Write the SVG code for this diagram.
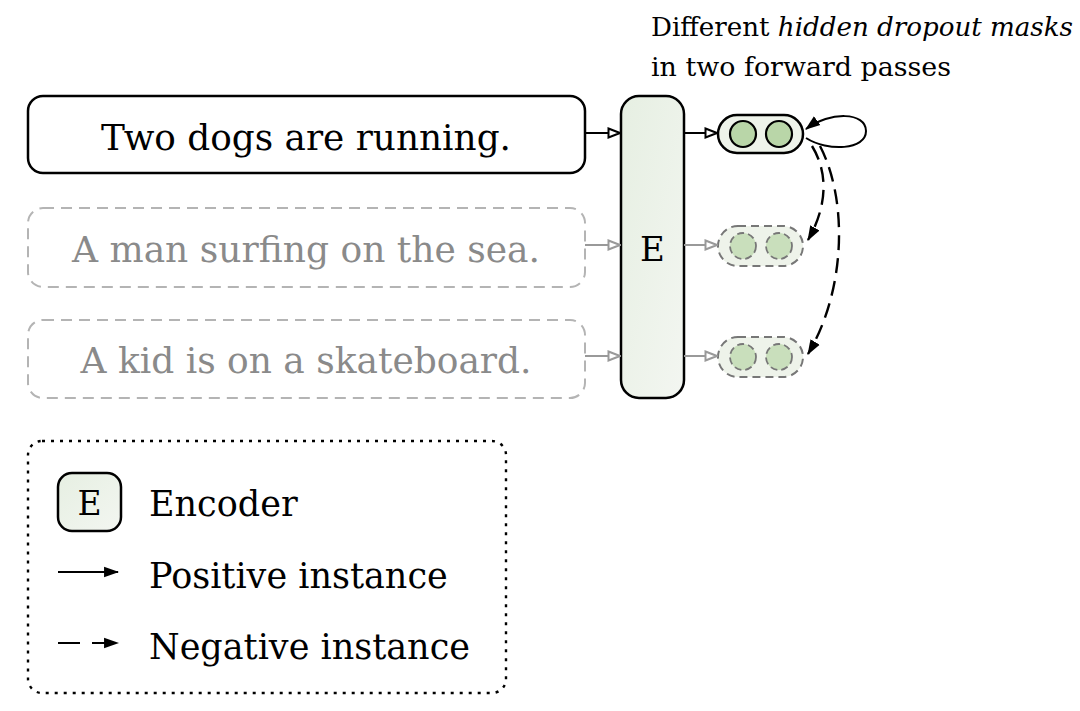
<svg xmlns="http://www.w3.org/2000/svg" width="1080" height="711" viewBox="0 0 1080 711">
<defs>
<linearGradient id="gE" x1="0" y1="0" x2="1" y2="1"><stop offset="0" stop-color="#e6efe2"/><stop offset="1" stop-color="#f3f6f1"/></linearGradient>
<marker id="open" viewBox="0 0 14 12" refX="13" refY="6" markerWidth="14" markerHeight="12" markerUnits="userSpaceOnUse" orient="auto"><path d="M1.500,1.500 L13,6 L1.500,10.500 Z" fill="#fff" stroke="#000" stroke-width="2"/></marker>
<marker id="openG" viewBox="0 0 14 12" refX="13" refY="6" markerWidth="14" markerHeight="12" markerUnits="userSpaceOnUse" orient="auto"><path d="M1.500,1.500 L13,6 L1.500,10.500 Z" fill="#fff" stroke="#999" stroke-width="2"/></marker>
<marker id="fill" viewBox="0 0 14 12" refX="13" refY="6" markerWidth="15" markerHeight="13" markerUnits="userSpaceOnUse" orient="auto"><path d="M0,1 L14,6 L0,11 Z" fill="#000"/></marker>
</defs>
<style>
.t{font-family:"DejaVu Serif","Liberation Serif",serif;}
.big{font-size:35px;}
.gray{fill:#8a8a8a;}
.solid{fill:#fff;stroke:#000;stroke-width:2.5;}
.dash{fill:#fff;stroke:#b4b4b4;stroke-width:2;stroke-dasharray:11 7;}
.enc{fill:url(#gE);stroke:#000;stroke-width:2.5;}
.pill{fill:#eef3ea;stroke:#000;stroke-width:2.5;}
.pillD{fill:#eef3ea;stroke:#777;stroke-width:2;stroke-dasharray:8 5;}
.dot{fill:#b9d6a8;stroke:#000;stroke-width:2.2;}
.dotD{fill:#c9dfbc;stroke:#777;stroke-width:1.8;stroke-dasharray:7 4;}
.ar{stroke:#000;stroke-width:2;fill:none;}
.arG{stroke:#999;stroke-width:2;fill:none;}
.neg{stroke:#000;stroke-width:2.4;fill:none;stroke-dasharray:15 8;}
</style>
<rect width="1080" height="711" fill="#fff"/>

<g id="note">
<text class="t" x="651" y="36" font-size="26" textLength="422" lengthAdjust="spacingAndGlyphs">Different <tspan font-style="italic">hidden dropout masks</tspan></text>
<text class="t" x="651" y="76" font-size="26" textLength="300" lengthAdjust="spacingAndGlyphs">in two forward passes</text>
</g>

<g id="s1">
<rect class="solid" x="28" y="96" width="557" height="77" rx="15"/>
<text class="t big" x="306" y="150" text-anchor="middle" textLength="410" lengthAdjust="spacingAndGlyphs">Two dogs are running.</text>
</g>
<g id="s2">
<rect class="dash" x="28" y="208" width="557" height="79" rx="15"/>
<text class="t big gray" x="306" y="262" text-anchor="middle" textLength="468" lengthAdjust="spacingAndGlyphs">A man surfing on the sea.</text>
</g>
<g id="s3">
<rect class="dash" x="28" y="320" width="557" height="78" rx="15"/>
<text class="t big gray" x="306" y="373" text-anchor="middle" textLength="451" lengthAdjust="spacingAndGlyphs">A kid is on a skateboard.</text>
</g>

<g id="encoder">
<rect class="enc" x="621" y="96" width="63" height="302" rx="18"/>
<text class="t" x="652.500" y="261" font-size="34" text-anchor="middle">E</text>
</g>

<g id="h1">
<rect class="pill" x="718" y="115" width="85" height="38" rx="19"/>
<circle class="dot" cx="743" cy="134" r="13"/>
<circle class="dot" cx="779" cy="134" r="13"/>
</g>
<g id="h2">
<rect class="pillD" x="718" y="226" width="85" height="40" rx="20"/>
<circle class="dotD" cx="743" cy="246" r="13"/>
<circle class="dotD" cx="779" cy="246" r="13"/>
</g>
<g id="h3">
<rect class="pillD" x="718" y="337" width="85" height="40" rx="20"/>
<circle class="dotD" cx="743" cy="357" r="13"/>
<circle class="dotD" cx="779" cy="357" r="13"/>
</g>

<g id="connectors">
<line class="ar" x1="585" y1="133" x2="620" y2="133" marker-end="url(#open)"/>
<line class="arG" x1="585" y1="245" x2="620" y2="245" marker-end="url(#openG)"/>
<line class="arG" x1="585" y1="356" x2="620" y2="356" marker-end="url(#openG)"/>
<line class="ar" x1="684" y1="133" x2="717" y2="133" marker-end="url(#open)"/>
<line class="arG" x1="684" y1="245" x2="717" y2="245" marker-end="url(#openG)"/>
<line class="arG" x1="684" y1="356" x2="717" y2="356" marker-end="url(#openG)"/>
<path class="ar" d="M806,138 C828,152 866,150 866,131 C866,112 830,111 806,129" stroke-width="2.4" marker-end="url(#fill)"/>
<path class="neg" d="M812,146 C828,172 828,205 808,240" marker-end="url(#fill)"/>
<path class="neg" d="M820,146 C848,200 846,290 808,354" marker-end="url(#fill)"/>
</g>

<g id="legend">
<rect x="28" y="441" width="478" height="252" rx="14" fill="none" stroke="#000" stroke-width="2.4" stroke-dasharray="3 6"/>
<rect class="enc" x="58" y="473" width="63" height="58" rx="14"/>
<text class="t" x="89.500" y="515" font-size="33" text-anchor="middle">E</text>
<text class="t big" x="149" y="516">Encoder</text>
<line x1="58" y1="572" x2="118" y2="572" stroke="#000" stroke-width="2.2" marker-end="url(#fill)"/>
<text class="t big" x="149" y="588">Positive instance</text>
<line x1="58" y1="643" x2="118" y2="643" stroke="#000" stroke-width="2.2" stroke-dasharray="22 12" marker-end="url(#fill)"/>
<text class="t big" x="149" y="659">Negative instance</text>
</g>
</svg>
